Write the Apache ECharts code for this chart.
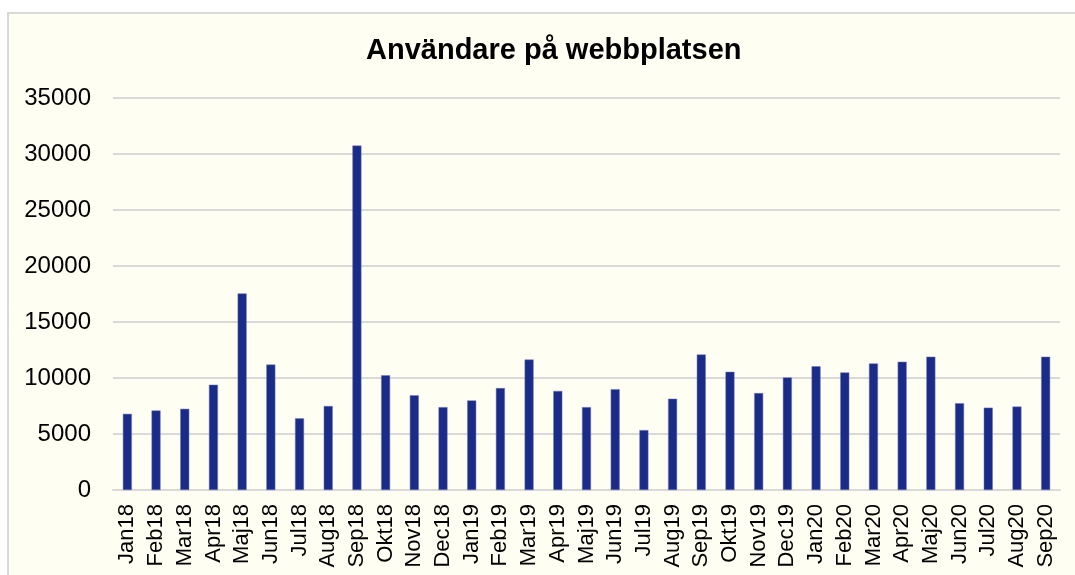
<!DOCTYPE html>
<html>
<head>
<meta charset="utf-8">
<script src="https://cdn.jsdelivr.net/npm/echarts@6/dist/echarts.min.js"></script>
<style>
  html, body { margin: 0; padding: 0; background: #ffffff; overflow: hidden; }
  .frame {
    position: absolute; left: 7px; top: 12px; width: 1080px; height: 580px;
    background: #fefef2; border: 2px solid #d9d9d9; box-sizing: border-box;
  }
  #chart { position: absolute; left: 0; top: 0; width: 1075px; height: 575px; }
</style>
</head>
<body>
<div class="frame"></div>
<div id="chart"></div>
<script>
const months = [
  'Jan18', 'Feb18', 'Mar18', 'Apr18', 'Maj18', 'Jun18', 'Jul18', 'Aug18', 'Sep18', 'Okt18', 'Nov18', 'Dec18',
  'Jan19', 'Feb19', 'Mar19', 'Apr19', 'Maj19', 'Jun19', 'Jul19', 'Aug19', 'Sep19', 'Okt19', 'Nov19', 'Dec19',
  'Jan20', 'Feb20', 'Mar20', 'Apr20', 'Maj20', 'Jun20', 'Jul20', 'Aug20', 'Sep20'
]
const users = [
  6800, 7100, 7250, 9400, 17550, 11200, 6400, 7500, 30750, 10250, 8450, 7400,
  8000, 9100, 11650, 8850, 7400, 9000, 5350, 8150, 12100, 10550, 8650, 10050,
  11050, 10500, 11300, 11450, 11900, 7750, 7350, 7450, 11900
]

const myChart = echarts.init(document.getElementById('chart'), null, { renderer: 'canvas' })

myChart.setOption({
  backgroundColor: 'transparent',
  animation: false,
  title: {
    text: 'Användare på webbplatsen',
    left: 361,
    top: 31,
    textStyle: { fontFamily: 'Liberation Sans', fontWeight: 'bold', fontSize: 29, color: '#000' }
  },
  grid: { left: 113, right: 15, top: 98, bottom: 85 },
  xAxis: {
    type: 'category',
    data: months,
    axisLine: { show: true, lineStyle: { color: '#d9d9d9', width: 2 } },
    axisTick: { show: false },
    axisLabel: {
      rotate: 90,
      interval: 0,
      margin: 14,
      fontFamily: 'Liberation Sans',
      fontSize: 22,
      color: '#000'
    }
  },
  yAxis: {
    type: 'value',
    min: 0,
    max: 35000,
    interval: 5000,
    axisLine: { show: false },
    axisTick: { show: false },
    splitLine: { lineStyle: { color: '#d9d9d9', width: 2 } },
    axisLabel: {
      margin: 22,
      fontFamily: 'Liberation Sans',
      fontSize: 24,
      color: '#000',
      formatter: (v) => String(v)
    }
  },
  series: [
    {
      type: 'bar',
      data: users,
      barWidth: 9,
      itemStyle: { color: '#1a2b88', borderColor: '#6c76b4', borderWidth: 0.5 }
    }
  ]
})
</script>
</body>
</html>
